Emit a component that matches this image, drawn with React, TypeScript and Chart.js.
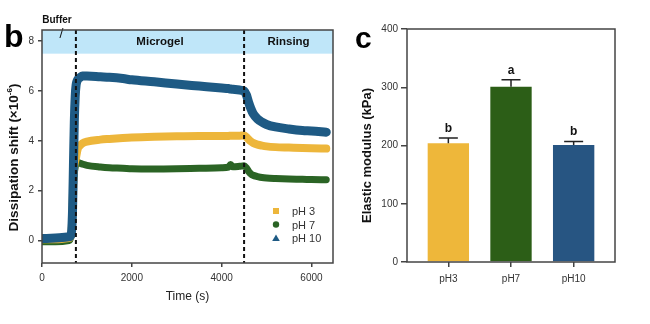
import React, { useEffect, useRef } from 'react';
import { Chart, registerables } from 'chart.js';
Chart.register(...registerables);

// ---------- Panel b: dissipation shift over time ----------
const timeS = [0, 300, 600, 650, 680, 700, 720, 740, 760, 780, 800, 850, 900, 1000, 1300, 1500, 1800, 2000, 2500, 3000, 3500, 4000, 4150, 4200, 4250, 4400, 4500, 4550, 4600, 4650, 4700, 4800, 4900, 5000, 5200, 5500, 5800, 6000, 6330];
const dissipPH10 = [0.08, 0.1, 0.15, 0.25, 1.2, 3.0, 4.8, 5.8, 6.25, 6.4, 6.47, 6.55, 6.6, 6.6, 6.57, 6.55, 6.5, 6.45, 6.37, 6.28, 6.2, 6.12, 6.1, 6.08, 6.07, 6.04, 6.0, 5.85, 5.55, 5.3, 5.1, 4.88, 4.75, 4.66, 4.56, 4.48, 4.42, 4.4, 4.35];
const dissipPH3 = [0.05, 0.05, 0.1, 0.25, 1.2, 2.6, 3.0, 3.2, 3.35, 3.55, 3.7, 3.82, 3.9, 3.97, 4.05, 4.08, 4.12, 4.14, 4.17, 4.19, 4.2, 4.2, 4.2, 4.21, 4.21, 4.21, 4.22, 4.16, 4.06, 3.98, 3.92, 3.85, 3.81, 3.78, 3.75, 3.73, 3.71, 3.7, 3.69];
const dissipPH7 = [-0.05, -0.05, 0.0, 0.2, 1.1, 2.2, 2.7, 2.95, 3.1, 3.15, 3.14, 3.1, 3.07, 3.02, 2.95, 2.92, 2.9, 2.88, 2.87, 2.88, 2.9, 2.92, 2.95, 3.05, 2.96, 2.98, 3.0, 2.92, 2.78, 2.68, 2.62, 2.57, 2.53, 2.51, 2.49, 2.47, 2.46, 2.45, 2.44];
const seriesNames = ['pH 3', 'pH 7', 'pH 10'];
const xTicksLeft = [0, 2000, 4000, 6000];
const yTicksLeft = [0, 2, 4, 6, 8];
const phaseBoundaries = [755, 4500];
const phaseLabels = ['Buffer', 'Microgel', 'Rinsing'];
const bandFrom = 7.5;

// ---------- Panel c: elastic modulus ----------
const barCategories = ['pH3', 'pH7', 'pH10'];
const modulusMean = [204, 301, 201];
const modulusErr = [9, 12, 6];
const sigLetters = ['b', 'a', 'b'];
const yTicksRight = [0, 100, 200, 300, 400];

const C_YELLOW = '#EDB63B';
const C_GREEN = '#2B6425';
const C_BLUE = '#1E5A84';
const BAR_COLORS = ['#EEB73A', '#2C5E17', '#275582'];
const FONT = 'Liberation Sans, Arial, sans-serif';
const AXIS = '#444';

function drawBox(ctx: CanvasRenderingContext2D, a: any) {
  ctx.save();
  ctx.strokeStyle = AXIS;
  ctx.lineWidth = 1.5;
  ctx.strokeRect(a.left, a.top, a.right - a.left, a.bottom - a.top);
  ctx.restore();
}

const leftDecor = {
  id: 'leftDecor',
  beforeDatasetsDraw(chart: any) {
    const { ctx, chartArea: a, scales } = chart;
    const yb = scales.y.getPixelForValue(bandFrom);
    ctx.save();
    ctx.fillStyle = '#BFE6F9';
    ctx.fillRect(a.left, a.top, a.right - a.left, yb - a.top);
    ctx.restore();
  },
  afterDatasetsDraw(chart: any) {
    const { ctx, chartArea: a, scales } = chart;
    const x = scales.x, y = scales.y;
    ctx.save();
    ctx.strokeStyle = '#111';
    ctx.lineWidth = 2;
    ctx.setLineDash([4, 3]);
    phaseBoundaries.forEach((t) => {
      const px = x.getPixelForValue(t);
      ctx.beginPath();
      ctx.moveTo(px, a.top);
      ctx.lineTo(px, a.bottom);
      ctx.stroke();
    });
    ctx.setLineDash([]);
    const bandMid = (a.top + y.getPixelForValue(bandFrom)) / 2;
    ctx.fillStyle = '#111';
    ctx.font = `bold 11.5px ${FONT}`;
    ctx.textAlign = 'center';
    ctx.textBaseline = 'middle';
    const b0 = x.getPixelForValue(phaseBoundaries[0]);
    const b1 = x.getPixelForValue(phaseBoundaries[1]);
    ctx.fillText(phaseLabels[1], (b0 + b1) / 2, bandMid);
    ctx.fillText(phaseLabels[2], (b1 + a.right) / 2, bandMid);
    ctx.font = `bold 10px ${FONT}`;
    ctx.fillText(phaseLabels[0], (a.left + b0) / 2 - 2, a.top - 10);
    ctx.strokeStyle = '#111';
    ctx.lineWidth = 1;
    ctx.beginPath();
    ctx.moveTo((a.left + b0) / 2 + 4, a.top - 2);
    ctx.lineTo((a.left + b0) / 2 + 1, a.top + 8);
    ctx.stroke();
    const colors = [C_YELLOW, C_GREEN, C_BLUE];
    const mx = a.right - 57;
    const rows = [a.bottom - 52, a.bottom - 38.5, a.bottom - 25];
    ctx.font = `11px ${FONT}`;
    ctx.textAlign = 'left';
    rows.forEach((ry, i) => {
      ctx.fillStyle = colors[i];
      if (i === 0) ctx.fillRect(mx - 3, ry - 3, 6, 6);
      else if (i === 1) {
        ctx.beginPath(); ctx.arc(mx, ry, 3.2, 0, Math.PI * 2); ctx.fill();
      } else {
        ctx.beginPath(); ctx.moveTo(mx, ry - 3.5); ctx.lineTo(mx + 3.8, ry + 3); ctx.lineTo(mx - 3.8, ry + 3); ctx.closePath(); ctx.fill();
      }
      ctx.fillStyle = '#333';
      ctx.fillText(seriesNames[i], mx + 16, ry + 1);
    });
    ctx.restore();
    drawBox(ctx, a);
  },
  afterDraw(chart: any) {
    const { ctx, chartArea: a } = chart;
    ctx.save();
    ctx.fillStyle = '#000';
    ctx.font = `bold 32px ${FONT}`;
    ctx.textAlign = 'left';
    ctx.textBaseline = 'alphabetic';
    ctx.fillText('b', 4, 47);
    ctx.font = `12px ${FONT}`;
    ctx.fillStyle = '#222';
    ctx.textAlign = 'center';
    ctx.fillText('Time (s)', (a.left + a.right) / 2, a.bottom + 37);
    ctx.translate(18, (a.top + a.bottom) / 2 + 11);
    ctx.rotate(-Math.PI / 2);
    const main = 'Dissipation shift (×10';
    const sup = '-6';
    const end = ')';
    ctx.font = `bold 13.5px ${FONT}`;
    const w1 = ctx.measureText(main).width;
    const w3 = ctx.measureText(end).width;
    ctx.font = `bold 8px ${FONT}`;
    const w2 = ctx.measureText(sup).width;
    const total = w1 + w2 + w3;
    let cx = -total / 2;
    ctx.textAlign = 'left';
    ctx.fillStyle = '#111';
    ctx.font = `bold 13.5px ${FONT}`;
    ctx.fillText(main, cx, 0);
    cx += w1;
    ctx.font = `bold 8px ${FONT}`;
    ctx.fillText(sup, cx, -6);
    cx += w2;
    ctx.font = `bold 13.5px ${FONT}`;
    ctx.fillText(end, cx, 0);
    ctx.restore();
  },
};

const rightDecor = {
  id: 'rightDecor',
  afterDatasetsDraw(chart: any) {
    const { ctx, chartArea: a, scales } = chart;
    const meta = chart.getDatasetMeta(0);
    ctx.save();
    ctx.strokeStyle = '#222';
    ctx.lineWidth = 1.5;
    meta.data.forEach((bar: any, i: number) => {
      const top = scales.y.getPixelForValue(modulusMean[i]);
      const et = scales.y.getPixelForValue(modulusMean[i] + modulusErr[i]);
      ctx.beginPath();
      ctx.moveTo(bar.x, top);
      ctx.lineTo(bar.x, et);
      ctx.moveTo(bar.x - 9.5, et);
      ctx.lineTo(bar.x + 9.5, et);
      ctx.stroke();
      ctx.fillStyle = '#111';
      ctx.font = `bold 12px ${FONT}`;
      ctx.textAlign = 'center';
      ctx.textBaseline = 'alphabetic';
      ctx.fillText(sigLetters[i], bar.x, et - 6);
    });
    ctx.restore();
    drawBox(ctx, a);
  },
  afterDraw(chart: any) {
    const { ctx, chartArea: a } = chart;
    ctx.save();
    ctx.fillStyle = '#000';
    ctx.font = `bold 30px ${FONT}`;
    ctx.textAlign = 'left';
    ctx.fillText('c', 15, 48);
    ctx.translate(27, (a.top + a.bottom) / 2 + 10);
    ctx.rotate(-Math.PI / 2);
    ctx.textAlign = 'center';
    ctx.textBaseline = 'middle';
    ctx.font = `bold 13px ${FONT}`;
    ctx.fillStyle = '#111';
    ctx.fillText('Elastic modulus (kPa)', 0, 0);
    ctx.restore();
  },
};

const tickFont = { family: FONT, size: 10 };

export default function App() {
  const leftRef = useRef<HTMLCanvasElement>(null);
  const rightRef = useRef<HTMLCanvasElement>(null);

  useEffect(() => {
    const mk = (vals: number[]) => timeS.map((t, i) => ({ x: t, y: vals[i] }));
    const common = { pointRadius: 0, fill: false, cubicInterpolationMode: 'monotone', borderCapStyle: 'round', borderJoinStyle: 'round' };
    const left = new Chart(leftRef.current!, {
      type: 'line',
      data: {
        datasets: [
          { label: seriesNames[2], data: mk(dissipPH10), borderColor: C_BLUE, borderWidth: 9, order: 1, ...common },
          { label: seriesNames[0], data: mk(dissipPH3), borderColor: C_YELLOW, borderWidth: 8, order: 2, ...common },
          { label: seriesNames[1], data: mk(dissipPH7), borderColor: C_GREEN, borderWidth: 7, order: 3, ...common },
        ] as any,
      },
      options: {
        responsive: false,
        animation: false,
        layout: { padding: { top: 30, right: 7, left: 0, bottom: 0 } },
        plugins: { legend: { display: false }, tooltip: { enabled: false } },
        scales: {
          x: {
            type: 'linear', min: 0, max: 6480,
            afterBuildTicks: (s: any) => { s.ticks = xTicksLeft.map((v) => ({ value: v })); },
            afterFit: (s: any) => { s.height = 61; },
            grid: { drawOnChartArea: false, drawTicks: true, tickLength: 4, color: AXIS, lineWidth: 1.5 },
            border: { display: false },
            ticks: { font: tickFont, color: '#333', padding: 5, maxRotation: 0, autoSkip: false, callback: (v: any) => String(v) },
          },
          y: {
            type: 'linear', min: -0.9, max: 8.45,
            afterBuildTicks: (s: any) => { s.ticks = yTicksLeft.map((v) => ({ value: v })); },
            afterFit: (s: any) => { s.width = 42; },
            grid: { drawOnChartArea: false, drawTicks: true, tickLength: 4, color: AXIS, lineWidth: 1.5 },
            border: { display: false },
            ticks: { font: tickFont, color: '#333', padding: 4, autoSkip: false },
          },
        },
      } as any,
      plugins: [leftDecor],
    });

    const right = new Chart(rightRef.current!, {
      type: 'bar',
      data: {
        datasets: [
          {
            data: barCategories.map((c, i) => ({ x: i, y: modulusMean[i] })),
            backgroundColor: BAR_COLORS,
            borderWidth: 0,
            barPercentage: 0.66,
            categoryPercentage: 1,
          },
        ] as any,
      },
      options: {
        responsive: false,
        animation: false,
        layout: { padding: { top: 29, right: 35, left: 0, bottom: 0 } },
        plugins: { legend: { display: false }, tooltip: { enabled: false } },
        scales: {
          x: {
            type: 'linear', min: -0.66, max: 2.66, offset: false,
            afterBuildTicks: (s: any) => { s.ticks = barCategories.map((_, i) => ({ value: i })); },
            afterFit: (s: any) => { s.height = 62; },
            grid: { offset: false, drawOnChartArea: false, drawTicks: true, tickLength: 5, color: AXIS, lineWidth: 1.5 },
            border: { display: false },
            ticks: { font: tickFont, color: '#333', padding: 6, maxRotation: 0, autoSkip: false, callback: (v: any) => barCategories[v] ?? '' },
          },
          y: {
            type: 'linear', min: 0, max: 400,
            afterBuildTicks: (s: any) => { s.ticks = yTicksRight.map((v) => ({ value: v })); },
            afterFit: (s: any) => { s.width = 67; },
            grid: { drawOnChartArea: false, drawTicks: true, tickLength: 6, color: AXIS, lineWidth: 1.5 },
            border: { display: false },
            ticks: { font: tickFont, color: '#333', padding: 3, autoSkip: false },
          },
        },
      } as any,
      plugins: [rightDecor],
    });

    return () => { left.destroy(); right.destroy(); };
  }, []);

  return (
    <div style={{ position: 'fixed', left: 0, top: 0, width: 650, height: 324, background: '#fff' }}>
      <canvas ref={leftRef} width={340} height={324} style={{ position: 'absolute', left: 0, top: 0, width: 340, height: 324 }} />
      <canvas ref={rightRef} width={310} height={324} style={{ position: 'absolute', left: 340, top: 0, width: 310, height: 324 }} />
    </div>
  );
}
